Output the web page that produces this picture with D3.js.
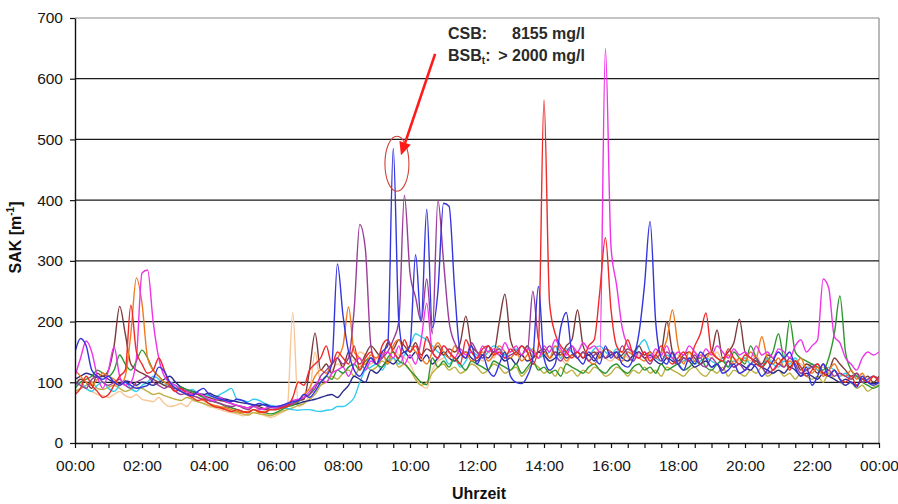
<!DOCTYPE html>
<html><head><meta charset="utf-8">
<script src="https://cdn.jsdelivr.net/npm/d3@7"></script>
<style>
body{margin:0;background:#fff}
svg{display:block;background:#fff}
text{font-family:"Liberation Sans",Arial,Helvetica,sans-serif}
</style>
</head><body>
<svg id="chart" width="898" height="504"></svg>
<script>
// ---------- DATA ----------
const yTicks = [0,100,200,300,400,500,600,700];
const xTickLabels = ["00:00","02:00","04:00","06:00","08:00","10:00","12:00","14:00","16:00","18:00","20:00","22:00","00:00"];
const stepMinutes = 10; // one value every 10 minutes, 00:00 .. 24:00

const peach = [
110,100,90,85,80,78, 75,80,85,78,75,80, 72,70,68,75,65,60, 62,65,60,70,68,65,
60,58,55,52,50,48, 45,47,50,48,45,42, 45,50,55,215,60,65, 80,150,100,110,120,130,
125,140,135,150,145,130, 140,150,135,155,145,140, 130,110,95,90,120,135, 140,150,135,145,140,150,
145,135,150,140,155,145, 140,150,145,135,150,140, 145,135,150,140,130,145, 140,150,135,145,155,140,
135,145,150,140,135,145, 140,135,150,145,140,150, 145,140,135,150,140,145, 140,150,135,145,140,135,
140,135,145,130,140,135, 130,140,125,135,130,125, 130,120,125,115,120,110, 115,105,110,100,105,95,
100];
const olive = [
85,90,95,100,90,88, 92,95,90,85,88,92, 90,85,80,82,78,75, 72,70,75,72,68,65,
62,60,58,55,52,50, 48,46,50,48,47,45, 48,52,55,58,62,65, 72,80,95,100,110,105,
115,120,110,125,130,120, 125,135,130,140,125,130, 120,105,95,100,115,125, 130,120,125,115,120,130,
125,115,120,130,125,115, 120,125,110,120,130,125, 115,120,110,125,115,120, 110,120,115,125,120,110,
115,125,120,110,120,115, 125,115,120,110,125,120, 115,110,120,125,115,110, 120,115,125,110,120,115,
110,120,115,125,110,115, 120,110,115,105,115,110, 105,110,100,115,105,100, 95,100,90,95,85,92,
95];
const cyan = [
95,100,90,85,95,100, 90,85,95,100,90,85, 95,100,110,105,95,100, 95,90,85,88,82,80,
78,75,80,85,90,72, 70,68,72,70,65,62, 60,58,57,55,54,55, 55,53,52,54,55,60,
60,65,75,100,120,125, 130,120,135,140,130,145, 160,180,175,170,160,150, 145,130,140,125,135,150,
145,140,150,160,155,145, 150,155,145,160,150,140, 145,150,160,140,155,150, 140,150,145,155,160,150,
145,155,140,150,145,160, 170,150,140,135,145,140, 130,135,140,130,135,140, 135,130,140,125,135,130,
140,130,135,125,140,130, 125,135,130,140,125,120, 130,120,115,125,120,110, 115,105,110,100,105,110,
105];
const navy = [
105,110,115,112,108,110, 105,100,98,102,100,95, 100,98,95,100,105,110, 100,92,88,85,82,80,
82,78,75,72,70,68, 66,65,63,62,64,60, 58,60,62,63,65,68, 70,72,75,78,80,75,
85,95,110,105,100,120, 115,125,135,130,140,150, 140,150,135,145,130,140, 150,140,135,145,150,140,
135,145,140,150,145,135, 140,130,145,135,140,150, 145,135,140,150,140,145, 150,140,145,135,150,140,
145,150,140,135,145,150, 140,145,135,130,140,135, 130,140,135,125,130,135, 125,130,120,135,125,130,
125,120,130,125,120,115, 120,115,125,120,110,115, 110,105,115,110,105,100, 105,100,95,105,100,98,
100];
const green = [
90,100,105,110,120,115, 110,120,145,130,120,135, 153,140,120,110,100,95, 90,92,88,85,80,75,
70,68,65,60,58,55, 52,50,55,52,50,48, 50,55,60,62,68,75, 80,95,100,110,105,120,
115,125,130,120,135,140, 130,125,140,150,135,130, 120,110,100,96,140,125, 135,125,140,130,120,135,
130,125,120,135,130,125, 120,130,115,125,135,120, 125,115,120,110,130,125, 120,115,125,130,120,115,
125,130,120,115,125,130, 120,125,115,130,120,125, 130,120,125,135,140,125, 120,130,135,125,150,140,
130,160,140,125,135,150, 180,140,202,150,140,135, 130,125,120,140,180,242, 150,120,110,100,95,90,
95];
const brown = [
95,105,100,90,115,110, 120,160,225,180,130,120, 115,110,105,100,95,92, 90,88,85,82,80,78,
75,72,70,68,65,62, 60,58,62,60,56,55, 55,58,62,65,70,72, 120,181,120,130,115,140,
125,150,140,130,145,160, 150,140,165,155,170,160, 150,165,145,155,150,160, 145,155,150,165,209,160,
150,145,160,150,200,245, 170,150,145,160,140,150, 155,140,150,145,160,170, 219,160,145,150,140,155,
150,140,145,155,150,160, 145,150,140,150,200,150, 135,145,150,140,130,145, 150,186,140,150,165,204,
150,140,135,130,145,140, 130,140,125,135,120,130, 125,115,130,120,140,130, 120,110,115,105,110,100,
110];
const orange = [
120,110,100,95,105,115, 110,105,95,110,180,272, 230,140,120,110,100,95, 90,85,80,78,75,70,
65,62,60,58,55,52, 50,52,55,50,52,55, 55,60,62,65,70,80, 90,110,120,115,130,140,
160,224,150,140,130,145, 140,150,130,160,170,150, 160,150,140,130,150,165, 150,140,160,145,150,135,
140,150,135,145,160,150, 140,150,135,145,155,140, 150,140,160,150,135,145, 140,150,135,130,145,155,
150,140,135,150,145,140, 135,150,140,150,170,219, 160,130,150,135,145,140, 150,140,135,145,130,140,
135,150,140,175,140,130, 140,125,135,130,140,120, 115,125,110,120,130,115, 110,120,105,115,100,110,
105];
const purple = [
100,95,90,105,110,100, 95,100,105,95,90,100, 105,110,100,95,90,95, 85,80,82,78,75,72,
70,68,65,62,60,62, 58,55,60,57,55,58, 58,60,62,65,70,75, 80,90,110,120,130,140,
130,140,220,360,320,160, 130,140,150,170,200,408, 280,240,200,270,180,400, 300,200,165,150,140,165,
150,140,160,150,155,140, 145,150,160,150,250,170, 150,160,145,135,150,160, 140,150,135,145,150,140,
150,140,160,145,135,150, 140,130,145,135,150,140, 130,140,135,145,130,125, 140,130,120,135,125,130,
120,130,140,125,115,120, 130,125,140,130,115,120, 125,130,115,120,110,115, 110,105,115,100,105,110,
105];
const magenta = [
110,140,168,150,110,90, 120,158,110,95,100,140, 280,285,200,140,110,100, 95,88,85,80,82,78,
72,70,75,68,65,62, 60,58,62,55,57,60, 58,62,65,70,72,75, 85,95,105,100,115,120,
125,110,130,140,120,135, 130,145,150,140,160,130, 145,130,170,230,150,140, 160,150,140,155,145,150,
140,160,150,155,145,165, 150,160,145,155,150,140, 160,150,170,155,145,160, 150,165,155,160,150,650,
323,260,190,160,150,140, 150,140,155,145,160,140, 150,145,160,150,140,155, 145,160,150,140,155,145,
150,140,160,145,150,140, 155,150,140,160,170,150, 160,170,270,255,175,165, 140,130,120,140,150,145,
150];
const red = [
80,90,110,95,85,75, 80,95,110,120,227,150, 130,115,120,140,120,95, 85,90,80,75,70,72,
65,60,58,55,52,55, 52,50,55,52,50,55, 55,58,60,75,100,95, 120,130,140,160,130,150,
140,130,160,120,140,150, 130,160,170,150,140,170, 150,160,140,175,150,140, 160,150,140,130,170,150,
140,155,160,145,150,140, 155,145,160,150,130,160, 565,230,180,160,150,140, 150,140,160,170,250,338,
220,160,150,170,145,140, 150,135,145,160,140,130, 140,150,135,160,180,214, 150,140,135,155,140,130,
145,140,130,125,135,120, 130,140,120,135,125,110, 120,130,115,110,120,105, 100,110,95,105,100,110,
100];
const blue = [
150,172,160,120,110,105, 110,100,95,100,95,90, 92,95,105,125,118,100, 90,85,80,78,85,90,
80,75,72,70,68,72, 70,65,62,65,62,60, 60,62,65,68,70,80, 75,85,100,110,130,295,
210,150,120,110,125,140, 130,150,160,485,200,150, 160,310,200,385,190,250, 395,390,252,150,140,160,
130,145,120,110,130,150, 110,100,98,110,140,258, 140,120,130,190,215,150, 140,130,150,140,130,160,
140,150,130,125,140,180, 260,365,200,140,130,150, 130,120,140,130,150,140, 125,130,115,120,130,115,
120,130,125,110,120,135, 150,140,150,125,110,125, 95,110,130,110,120,105, 95,100,92,110,100,95,
100];

const seriesValues = [peach, olive, cyan, navy, green, brown, orange, purple, magenta, red, blue];
const seriesColors = ["#f9c696","#bdb040","#33ccee","#2a2a8c","#2e962e","#7d3a3a","#f07a1e","#9a3d9a","#ee33e8","#ee2a2a","#3535e0"];

// annotation (data units: hours, SAK)
const annoLines = [["CSB:", "8155 mg/l"], ["BSB", "> 2000 mg/l"]];
const circleAt = {hour: 9.61, value: 460};
const arrowFrom = {hour: 10.75, value: 641};
const arrowTo = {hour: 9.73, value: 474};

// ---------- CHART ----------
const svg = d3.select("#chart");
const x = d3.scaleLinear().domain([0, 24]).range([75, 879]);
const y = d3.scaleLinear().domain([0, 700]).range([443, 18]);

// plot frame (top & right, light grey)
svg.append("line").attr("x1", x(0)).attr("x2", x(24)).attr("y1", y(700)).attr("y2", y(700))
  .attr("stroke", "#8a8a8a").attr("stroke-width", 1.2);
svg.append("line").attr("x1", x(24)).attr("x2", x(24)).attr("y1", y(700)).attr("y2", y(0))
  .attr("stroke", "#8a8a8a").attr("stroke-width", 1.2);

// gridlines
svg.append("g").selectAll("line").data(yTicks.filter(d => d > 0 && d < 700)).join("line")
  .attr("x1", x(0)).attr("x2", x(24)).attr("y1", d => y(d)).attr("y2", d => y(d))
  .attr("stroke", "#1a1a1a").attr("stroke-width", 1.3);

// lines
const line = d3.line()
  .x((d, i) => x(i * stepMinutes / 60))
  .y(d => y(d))
  .curve(d3.curveMonotoneX);

svg.append("clipPath").attr("id", "clipPlot").append("rect")
  .attr("x", x(0)).attr("y", y(700)).attr("width", x(24) - x(0)).attr("height", y(0) - y(700));

svg.append("g").attr("clip-path", "url(#clipPlot)").selectAll("path").data(seriesValues).join("path")
  .attr("d", d => line(d))
  .attr("fill", "none")
  .attr("stroke", (d, i) => seriesColors[i])
  .attr("stroke-width", 1.4)
  .attr("stroke-linejoin", "round");

// axes
const yAxis = d3.axisLeft(y).tickValues(yTicks).tickSize(5).tickSizeOuter(0).tickPadding(7);
const gy = svg.append("g").attr("transform", `translate(${x(0)},0)`).call(yAxis);
gy.selectAll("text").attr("font-size", "15.5px").attr("fill", "#161616")
  .attr("font-family", '"Liberation Sans",Arial,sans-serif');

const xTickVals = d3.range(0, 48.5).map(i => i / 2);
const xAxis = d3.axisBottom(x).tickValues(xTickVals).tickSize(5).tickSizeOuter(0).tickPadding(12)
  .tickFormat(d => (d % 2 === 0) ? xTickLabels[d / 2] : "");
const gx = svg.append("g").attr("transform", `translate(0,${y(0)})`).call(xAxis);
gx.selectAll("text").attr("font-size", "15.5px").attr("fill", "#161616")
  .attr("font-family", '"Liberation Sans",Arial,sans-serif');

[gx, gy].forEach(g => {
  g.select(".domain").attr("stroke", "#111").attr("stroke-width", 1.4);
  g.selectAll(".tick line").attr("stroke", "#111").attr("stroke-width", 1.2);
});

// axis titles
const yt = svg.append("text")
  .attr("transform", `translate(21,${(y(0) + y(700)) / 2 + 7}) rotate(-90)`)
  .attr("text-anchor", "middle").attr("font-weight", "bold").attr("font-size", "16px").attr("fill", "#111");
yt.append("tspan").text("SAK [m");
yt.append("tspan").attr("font-size", "10px").attr("dy", "-7").text("-1");
yt.append("tspan").attr("dy", "7").text("]");

svg.append("text").attr("x", (x(0) + x(24)) / 2 + 2).attr("y", 499)
  .attr("text-anchor", "middle").attr("font-weight", "bold").attr("font-size", "16px").attr("fill", "#111")
  .text("Uhrzeit");

// annotation
const ann = svg.append("g").attr("font-size", "16px").attr("font-weight", "bold").attr("fill", "#2a2a2a");
ann.append("text").attr("x", 448).attr("y", 39).text(annoLines[0][0]);
ann.append("text").attr("x", 585).attr("y", 39).attr("text-anchor", "end").text(annoLines[0][1]);
const b = ann.append("text").attr("x", 448).attr("y", 61);
b.append("tspan").text(annoLines[1][0]);
b.append("tspan").attr("font-size", "10px").attr("dy", "3").text("t");
b.append("tspan").attr("dy", "-3").text(":");
ann.append("text").attr("x", 585).attr("y", 61).attr("text-anchor", "end").text(annoLines[1][1]);

svg.append("ellipse").attr("cx", x(circleAt.hour)).attr("cy", y(circleAt.value))
  .attr("rx", 12).attr("ry", 27.5).attr("fill", "none").attr("stroke", "#d2413a").attr("stroke-width", 1.1);

const ax1 = x(arrowFrom.hour), ay1 = y(arrowFrom.value), ax2 = x(arrowTo.hour), ay2 = y(arrowTo.value);
const len = Math.hypot(ax2 - ax1, ay2 - ay1), ux = (ax2 - ax1) / len, uy = (ay2 - ay1) / len;
const hl = 13, hw = 6;
const bx = ax2 - hl * ux, by = ay2 - hl * uy;
svg.append("line").attr("x1", ax1).attr("y1", ay1).attr("x2", bx).attr("y2", by)
  .attr("stroke", "#ff1a1a").attr("stroke-width", 2.6);
svg.append("polygon")
  .attr("points", [[ax2, ay2], [bx - hw * uy, by + hw * ux], [bx + hw * uy, by - hw * ux]].map(p => p.join(",")).join(" "))
  .attr("fill", "#ff1a1a");
</script>
</body></html>
